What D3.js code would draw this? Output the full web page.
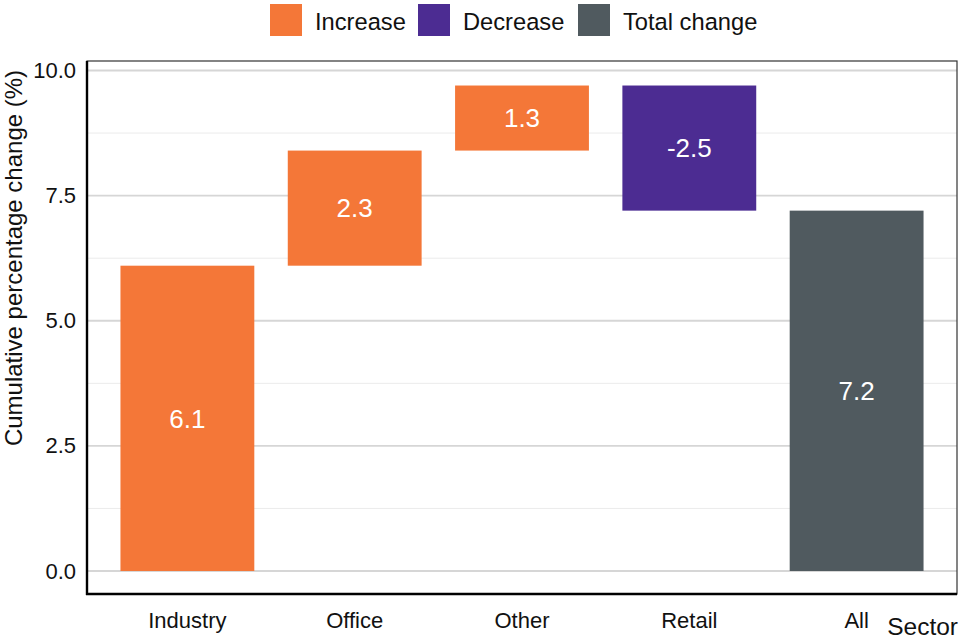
<!DOCTYPE html>
<html>
<head>
<meta charset="utf-8">
<script src="https://cdn.jsdelivr.net/npm/d3@7"></script>
<style>
	body { margin: 0; background: #fff; }
	text { font-family: "Liberation Sans", Arial, sans-serif; }
</style>
</head>
<body>
<div class="graph"></div>
<script>
// waterfall data
const sectors = ["Industry", "Office", "Other", "Retail", "All"];
const changes = [6.1, 2.3, 1.3, -2.5, 7.2];
const kinds = ["Increase", "Increase", "Increase", "Decrease", "Total change"];
const legendKeys = ["Increase", "Decrease", "Total change"];
const legendColors = ["#f47738", "#4c2c92", "#505a5f"];
const yTicks = [0, 2.5, 5, 7.5, 10];
const yMinor = [1.25, 3.75, 6.25, 8.75];

const width = 960, height = 640;
// panel edges
const pLeft = 87, pRight = 957, pTop = 61, pBottom = 594;

let svg = d3.select(".graph")
	.append("svg")
	.attr("width", width)
	.attr("height", height);

// cumulative start / end for each step, last bar is the total from zero
let bars = [];
let running = 0;
for(let i = 0; i < sectors.length; i++){
	if(kinds[i] == "Total change"){
		bars.push({name: sectors[i], start: 0, end: changes[i], value: changes[i], kind: kinds[i]});
	}else{
		bars.push({name: sectors[i], start: running, end: running + changes[i], value: changes[i], kind: kinds[i]});
		running += changes[i];
	}
}

let x = d3.scaleBand()
	.domain(sectors)
	.range([pLeft, pRight])
	.paddingInner(0.2)
	.paddingOuter(0.2);

let y = d3.scaleLinear()
	.domain([0, 10])
	.range([571, 70.5]);

let color = d3.scaleOrdinal()
	.domain(legendKeys)
	.range(legendColors);

// grid
svg.append("g").selectAll("line")
	.data(yMinor)
	.enter().append("line")
	.attr("x1", pLeft).attr("x2", pRight)
	.attr("y1", d => y(d)).attr("y2", d => y(d))
	.attr("stroke", "#ebebeb")
	.attr("stroke-width", 1);

svg.append("g").selectAll("line")
	.data(yTicks)
	.enter().append("line")
	.attr("x1", pLeft).attr("x2", pRight)
	.attr("y1", d => y(d)).attr("y2", d => y(d))
	.attr("stroke", "#d6d6d6")
	.attr("stroke-width", 1.8);

// panel border (thin top / right)
svg.append("rect")
	.attr("x", pLeft).attr("y", pTop)
	.attr("width", pRight - pLeft).attr("height", pBottom - pTop)
	.attr("fill", "none")
	.attr("stroke", "#333")
	.attr("stroke-width", 1.2);

// bars
svg.append("g").selectAll("rect")
	.data(bars)
	.enter().append("rect")
	.attr("x", d => x(d.name))
	.attr("width", x.bandwidth())
	.attr("y", d => y(Math.max(d.start, d.end)))
	.attr("height", d => Math.abs(y(d.start) - y(d.end)))
	.attr("fill", d => color(d.kind));

svg.append("g").selectAll("text")
	.data(bars)
	.enter().append("text")
	.attr("x", d => x(d.name) + x.bandwidth() / 2)
	.attr("y", d => y((d.start + d.end) / 2))
	.attr("dy", "0.36em")
	.attr("text-anchor", "middle")
	.attr("fill", "#fff")
	.style("font-size", "26px")
	.text(d => d.value.toFixed(1));

// axes
let yAxis = svg.append("g")
	.attr("transform", "translate(" + pLeft + ",0)")
	.call(d3.axisLeft(y).tickValues(yTicks).tickFormat(d3.format(".1f")).tickSize(0).tickPadding(11));
yAxis.select(".domain").remove();
yAxis.selectAll("text").style("font-size", "22px").attr("fill", "#111");

let xAxis = svg.append("g")
	.attr("transform", "translate(0," + pBottom + ")")
	.call(d3.axisBottom(x).tickSize(0).tickPadding(18));
xAxis.select(".domain").remove();
xAxis.selectAll("text").style("font-size", "22px").attr("fill", "#111");

svg.append("line")
	.attr("x1", pLeft).attr("x2", pLeft)
	.attr("y1", pTop).attr("y2", pBottom + 1)
	.attr("stroke", "#000").attr("stroke-width", 2.4);
svg.append("line")
	.attr("x1", pLeft - 1).attr("x2", pRight)
	.attr("y1", pBottom).attr("y2", pBottom)
	.attr("stroke", "#000").attr("stroke-width", 2.4);

// axis titles
svg.append("text")
	.attr("transform", "translate(22,258) rotate(-90)")
	.attr("text-anchor", "middle")
	.attr("fill", "#111")
	.style("font-size", "24px")
	.text("Cumulative percentage change (%)");

svg.append("text")
	.attr("x", 958).attr("y", 635)
	.attr("text-anchor", "end")
	.attr("fill", "#111")
	.style("font-size", "24.5px")
	.text("Sector");

// legend on top
let legendX = [270, 418, 578];
let legend = svg.append("g").selectAll("g")
	.data(legendKeys)
	.enter().append("g")
	.attr("transform", (d, i) => "translate(" + legendX[i] + ",4)");
legend.append("rect")
	.attr("width", 32).attr("height", 32)
	.attr("fill", d => color(d));
legend.append("text")
	.attr("x", 45).attr("y", 25.5)
	.attr("fill", "#111")
	.style("font-size", "23.7px")
	.text(d => d);
</script>
</body>
</html>
